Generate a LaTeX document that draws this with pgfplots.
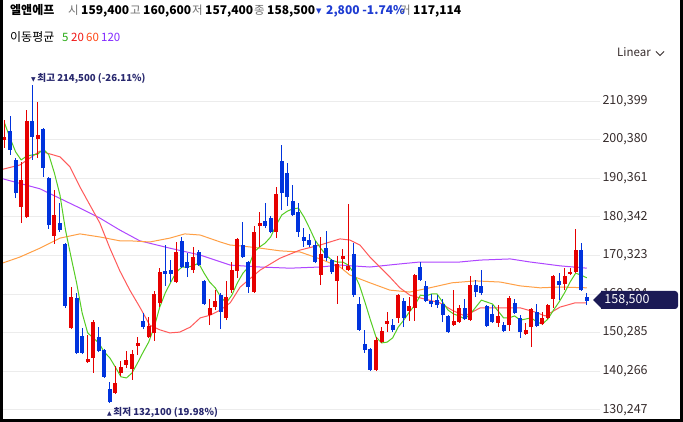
\documentclass[border=0pt]{standalone}
\usepackage{fontspec}
\setmainfont{Noto Sans CJK KR}
\newfontfamily\dejavu{DejaVu Sans}
\usepackage{pgfplots}
\pgfplotsset{compat=1.18}
\usepackage{pgfplotstable}

\definecolor{cUp}{RGB}{230,0,0}
\definecolor{cDn}{RGB}{0,51,221}
\definecolor{maA}{RGB}{85,205,35}
\definecolor{maB}{RGB}{255,90,90}
\definecolor{maC}{RGB}{255,160,70}
\definecolor{maD}{RGB}{175,70,255}
\definecolor{navy}{RGB}{40,40,110}
\definecolor{badge}{RGB}{27,26,85}
\definecolor{gridc}{RGB}{236,236,236}
\definecolor{ticktext}{RGB}{55,45,45}
\definecolor{hdrgray}{RGB}{110,110,110}
\definecolor{hdrblue}{RGB}{30,60,210}
\definecolor{lg5}{RGB}{40,170,20}
\definecolor{lg20}{RGB}{240,20,20}
\definecolor{lg60}{RGB}{255,70,20}
\definecolor{lg120}{RGB}{130,40,255}

% up candles (red): index open high low close
\pgfplotstableread{
i o h l c
1 200300 205500 198200 201100
4 182900 194600 178700 189900
5 180300 208100 180000 205200
7 200500 210100 195600 201600
10 175400 187300 173300 180800
13 151500 162100 151200 159500
16 142600 149700 142400 143400
17 143700 153500 139800 153000
21 134600 141600 134400 137200
22 139800 142900 139000 141300
23 141900 145500 141100 143200
24 140800 145800 138000 144700
25 146800 149100 144500 147600
27 149100 154300 148900 152000
28 150200 161100 148100 160300
29 158000 167000 156900 166000
32 163400 173800 163200 171200
35 166500 172500 165700 169900
38 154800 159000 152200 156700
39 156900 161300 156100 158500
41 154100 163700 153500 159500
42 161300 168600 160600 166500
43 166300 174800 164500 174600
46 160800 177900 160600 176400
47 177900 181600 172500 178700
50 176400 188100 174800 186300
58 165200 175100 162600 170700
61 163700 170200 157700 168100
62 169400 172000 166800 170200
63 166500 183700 166300 167600
68 140600 149100 140400 148400
69 147800 151700 147600 150700
70 152500 155600 150400 153300
72 154100 160200 152800 160000
74 155900 159500 153300 157200
75 156700 165400 153300 165200
82 152200 161300 152000 153300
83 153000 157400 152800 156700
85 153500 165000 153300 162600
90 152800 157400 151700 154600
92 152200 159800 150700 159300
95 149900 152800 149700 151000
96 151700 156600 146500 156400
98 152500 155600 152200 154100
99 154100 157700 153800 157400
100 159000 165200 156700 165000
102 162900 167000 161300 165000
103 165500 167000 165200 166000
104 166000 177200 165700 171700
}\upT

% down candles (blue): index open high low close
\pgfplotstableread{
i o h l c
2 202600 206500 196400 197700
3 195100 195600 185200 186500
6 205200 214500 195100 201100
8 203100 203400 190700 193000
9 190400 190700 177200 178200
11 178700 183900 176400 176900
12 173300 173500 156700 157200
14 159300 160600 144800 145000
15 149400 151500 144700 145000
18 149100 151700 145200 145500
19 145800 146000 138600 138800
20 135600 137500 132100 132300
26 153300 155400 151200 151700
30 166300 173000 162400 165500
31 166500 169100 163400 165500
33 174100 175100 167100 167300
34 168600 170900 164700 167000
36 171200 171700 167600 167800
37 163700 163900 157500 157700
40 160000 160600 151200 155600
44 173000 179000 169700 169900
45 168600 168800 160600 162100
48 179200 183900 177400 177900
49 180000 180500 176100 176400
51 194800 199000 182100 186500
52 191700 194300 183100 185500
53 184400 188600 180500 180800
54 181600 183900 175100 176400
55 175100 177400 172500 174100
56 174300 175900 172500 173000
57 173000 174100 168300 168600
59 172200 176700 168900 169600
60 169100 169300 165500 166000
64 170700 173500 159500 160000
65 157700 159500 150800 151000
66 147300 151000 145000 145800
67 146000 146200 140400 140600
71 152200 153800 150400 151000
73 158500 159300 151700 154100
76 167300 168600 163700 163900
77 162400 163700 158200 158500
78 158500 160300 156900 157700
79 158700 160000 156700 157400
80 157700 159000 153000 154800
81 154600 154800 150200 150400
84 156700 159000 153500 153800
86 162600 163900 159500 160800
87 162400 166500 160000 160600
88 157200 157400 151800 152000
89 155100 157400 152800 153000
91 152200 153000 150400 150700
93 158000 159000 155100 155400
94 154100 154800 148900 150400
97 155600 157700 151700 152000
101 163700 165700 158700 162600
105 171700 173500 161100 161300
106 159400 160600 157400 158500
}\dnT

\begin{document}
\begin{tikzpicture}[x=1pt,y=1pt]
\path[use as bounding box] (0,0) rectangle (683,422);
\fill[white] (0,0) rectangle (683,422);

\begin{axis}[
  at={(0pt,2pt)}, anchor=south west, scale only axis,
  width=600pt, height=354pt,
  xmin=0.1885, xmax=108.39, ymin=127587, ymax=219485,
  axis line style={draw=none},
  major tick length=0pt,
  xtick=\empty,
  scaled y ticks=false,
  ytick={130247,140266,150285,160304,170323,180342,190361,200380,210399},
  yticklabels={{130,247},{140,266},{150,285},{160,304},{170,323},{180,342},{190,361},{200,380},{210,399}},
  yticklabel pos=right,
  yticklabel style={font=\fontsize{12.5}{14}\selectfont, text=ticktext, anchor=west, xshift=-1pt},
  ymajorgrids, grid style={draw=gridc, line width=0.8pt},
  clip mode=individual,
]
% moving averages
\addplot[maD, line width=1pt] coordinates {(0.19,190400)(7.4,187600)(14.6,182600)(18.2,180000)(21.8,176900)(25.4,174100)(30.8,172200)(36.3,170400)(41.7,167800)(47.1,167300)(52.5,167000)(57.9,167300)(61.5,167800)(66.9,167300)(72.3,168100)(75.9,168600)(79.5,168600)(83.1,168600)(86.8,169100)(92.2,169400)(95.8,168600)(101.2,167600)(106,167000)};
\addplot[maC, line width=1pt] coordinates {(0.19,168100)(3.8,169900)(7.4,172200)(11,174800)(14.6,175900)(18.2,175100)(21.8,174100)(23.6,174100)(27.2,173800)(30.8,174800)(33.5,175900)(36.3,175600)(39.9,173800)(41.7,173000)(43.5,172800)(47.1,172200)(50.7,171500)(54.3,171200)(57.9,169400)(61.5,167300)(63.3,165200)(66.9,163200)(70.5,161300)(74.1,160800)(77.7,161900)(81.7,163200)(85.9,163700)(90.4,163400)(94,162400)(97.6,161900)(101.2,162100)(106,161900)};
\addplot[maB, line width=1pt] coordinates {(0.19,192500)(3.8,193800)(7.4,197400)(11,195900)(12.8,193300)(14.6,188100)(16.4,183400)(18.2,178700)(20,172200)(21.8,166300)(23.6,161300)(25.4,156900)(27.2,152200)(29,151000)(30.8,150200)(32.6,150400)(34.5,151700)(36.3,154100)(38.1,154800)(39.9,156100)(41.7,158000)(43.5,162100)(47.1,166500)(50.7,169600)(54.3,171700)(57.9,173000)(61.5,174600)(63.3,174300)(65.1,173000)(66.9,169900)(68.7,167300)(70.5,164700)(72.3,161900)(74.1,160000)(75.9,159300)(79.5,158000)(81.7,156100)(84,154600)(86.8,156700)(90.4,156700)(94,156700)(96.7,155600)(98.5,154600)(101.2,156900)(103.9,158000)(106,158000)};
\addplot[maA, line width=1pt] coordinates {(1,204700)(2,200800)(3,197200)(4,195100)(5,196100)(6,196400)(7,196600)(8,197900)(9,196400)(10,191700)(11,186000)(12,176900)(13,169900)(14,163200)(15,155400)(16,150200)(17,148900)(18,147600)(19,145200)(20,143700)(21,141300)(22,138800)(23,138500)(24,139800)(25,142400)(26,145200)(27,147800)(28,151700)(29,156900)(30,160600)(31,163400)(32,166000)(33,167300)(34,167300)(35,167600)(36,168300)(37,165700)(38,163400)(39,161900)(40,159500)(41,158000)(42,160000)(43,163200)(44,165700)(45,167300)(46,171200)(47,172500)(48,173500)(49,175100)(50,178200)(51,180800)(52,181800)(53,182400)(54,182600)(55,180300)(56,177400)(57,174300)(58,172200)(59,170400)(60,169100)(61,168600)(62,168600)(63,167800)(64,165700)(65,162600)(66,158200)(67,153500)(68,149100)(69,147600)(70,147800)(71,148900)(72,151700)(73,153500)(74,155600)(75,157400)(76,160000)(77,159800)(78,160300)(79,160300)(80,158200)(81,156100)(82,155100)(83,154600)(84,153800)(85,155100)(86,156900)(87,158700)(88,158200)(89,157700)(90,155900)(91,154100)(92,154100)(93,154600)(94,153500)(95,153800)(96,154100)(97,153000)(98,152500)(99,153800)(100,156100)(101,158200)(102,160600)(103,163400)(104,165700)(105,165200)(106,164500)};

% wicks
\addplot[draw=none, mark=none, error bars/.cd, y dir=plus, y explicit, error mark=none,
  error bar style={draw=cUp, line width=1pt}]
  table[x=i, y=l, y error expr=\thisrow{h}-\thisrow{l}] {\upT};
\addplot[draw=none, mark=none, error bars/.cd, y dir=plus, y explicit, error mark=none,
  error bar style={draw=cDn, line width=1pt}]
  table[x=i, y=l, y error expr=\thisrow{h}-\thisrow{l}] {\dnT};
% bodies
\addplot[draw=none, mark=none, error bars/.cd, y dir=plus, y explicit, error mark=none,
  error bar style={draw=cUp, line width=4pt}]
  table[x=i, y=o, y error expr=\thisrow{c}-\thisrow{o}] {\upT};
\addplot[draw=none, mark=none, error bars/.cd, y dir=plus, y explicit, error mark=none,
  error bar style={draw=cDn, line width=4pt}]
  table[x=i, y=c, y error expr=\thisrow{o}-\thisrow{c}] {\dnT};

% high / low annotations
\node[anchor=west, inner sep=0pt, text=navy, font=\fontsize{9.6}{11}\selectfont\bfseries]
  at (axis cs:5.78,216240) {{\dejavu\fontsize{6}{6}\selectfont ▼}\,최고 214,500 (-26.11\%)};
\node[anchor=west, inner sep=0pt, text=navy, font=\fontsize{9.6}{11}\selectfont\bfseries]
  at (axis cs:19.49,129534) {{\dejavu\fontsize{6}{6}\selectfont ▲}\,최저 132,100 (19.98\%)};
\end{axis}

% current price badge
\fill[badge] (593,122) -- (602,131) -- (602,113) -- cycle;
\fill[badge] (601,113) -- (601,131) [rounded corners=3pt] -- (678,131) -- (678,113) [sharp corners] -- cycle;
\node[text=white, font=\fontsize{12.5}{14}\selectfont, inner sep=0pt] at (627,122) {158,500};

% header line 1
\begin{scope}[every node/.style={anchor=base west, inner sep=0pt}]
\node[font=\fontsize{12}{14}\selectfont\bfseries] at (10,407) {엘앤에프};
\node[font=\fontsize{11.5}{13}\selectfont, text=hdrgray] at (68,407) {시};
\node[font=\fontsize{12}{14}\selectfont\bfseries] at (81,407) {159,400};
\node[font=\fontsize{11.5}{13}\selectfont, text=hdrgray] at (130,407) {고};
\node[font=\fontsize{12}{14}\selectfont\bfseries] at (143,407) {160,600};
\node[font=\fontsize{11.5}{13}\selectfont, text=hdrgray] at (192,407) {저};
\node[font=\fontsize{12}{14}\selectfont\bfseries] at (205,407) {157,400};
\node[font=\fontsize{11.5}{13}\selectfont, text=hdrgray] at (254,407) {종};
\node[font=\fontsize{12}{14}\selectfont\bfseries] at (267,407) {158,500};
\node[font=\dejavu\fontsize{7}{8}\selectfont, text=hdrblue] at (316,408) {▼};
\node[font=\fontsize{12}{14}\selectfont\bfseries, text=hdrblue] at (326,407) {2,800 -1.74\%};
\node[font=\fontsize{11.5}{13}\selectfont, text=hdrgray] at (400,407) {거};
\node[font=\fontsize{12}{14}\selectfont\bfseries] at (413,407) {117,114};
% header line 2
\node[font=\fontsize{12}{14}\selectfont] at (10,380) {이동평균};
\node[font=\fontsize{11.5}{13}\selectfont, text=lg5] at (62,380) {5};
\node[font=\fontsize{11.5}{13}\selectfont, text=lg20] at (71,380) {20};
\node[font=\fontsize{11.5}{13}\selectfont, text=lg60] at (86,380) {60};
\node[font=\fontsize{11.5}{13}\selectfont, text=lg120] at (101,380) {120};
% scale selector
\node[font=\fontsize{11.5}{13}\selectfont, text=ticktext] at (617,365) {Linear};
\end{scope}
\draw[ticktext, line width=0.9pt] (656,370.5) -- (660,366.5) -- (664,370.5);

% frame
\draw[black, line width=3pt] (1.5,422) -- (1.5,1.5) -- (681.5,1.5) -- (681.5,422);
\end{tikzpicture}
\end{document}
